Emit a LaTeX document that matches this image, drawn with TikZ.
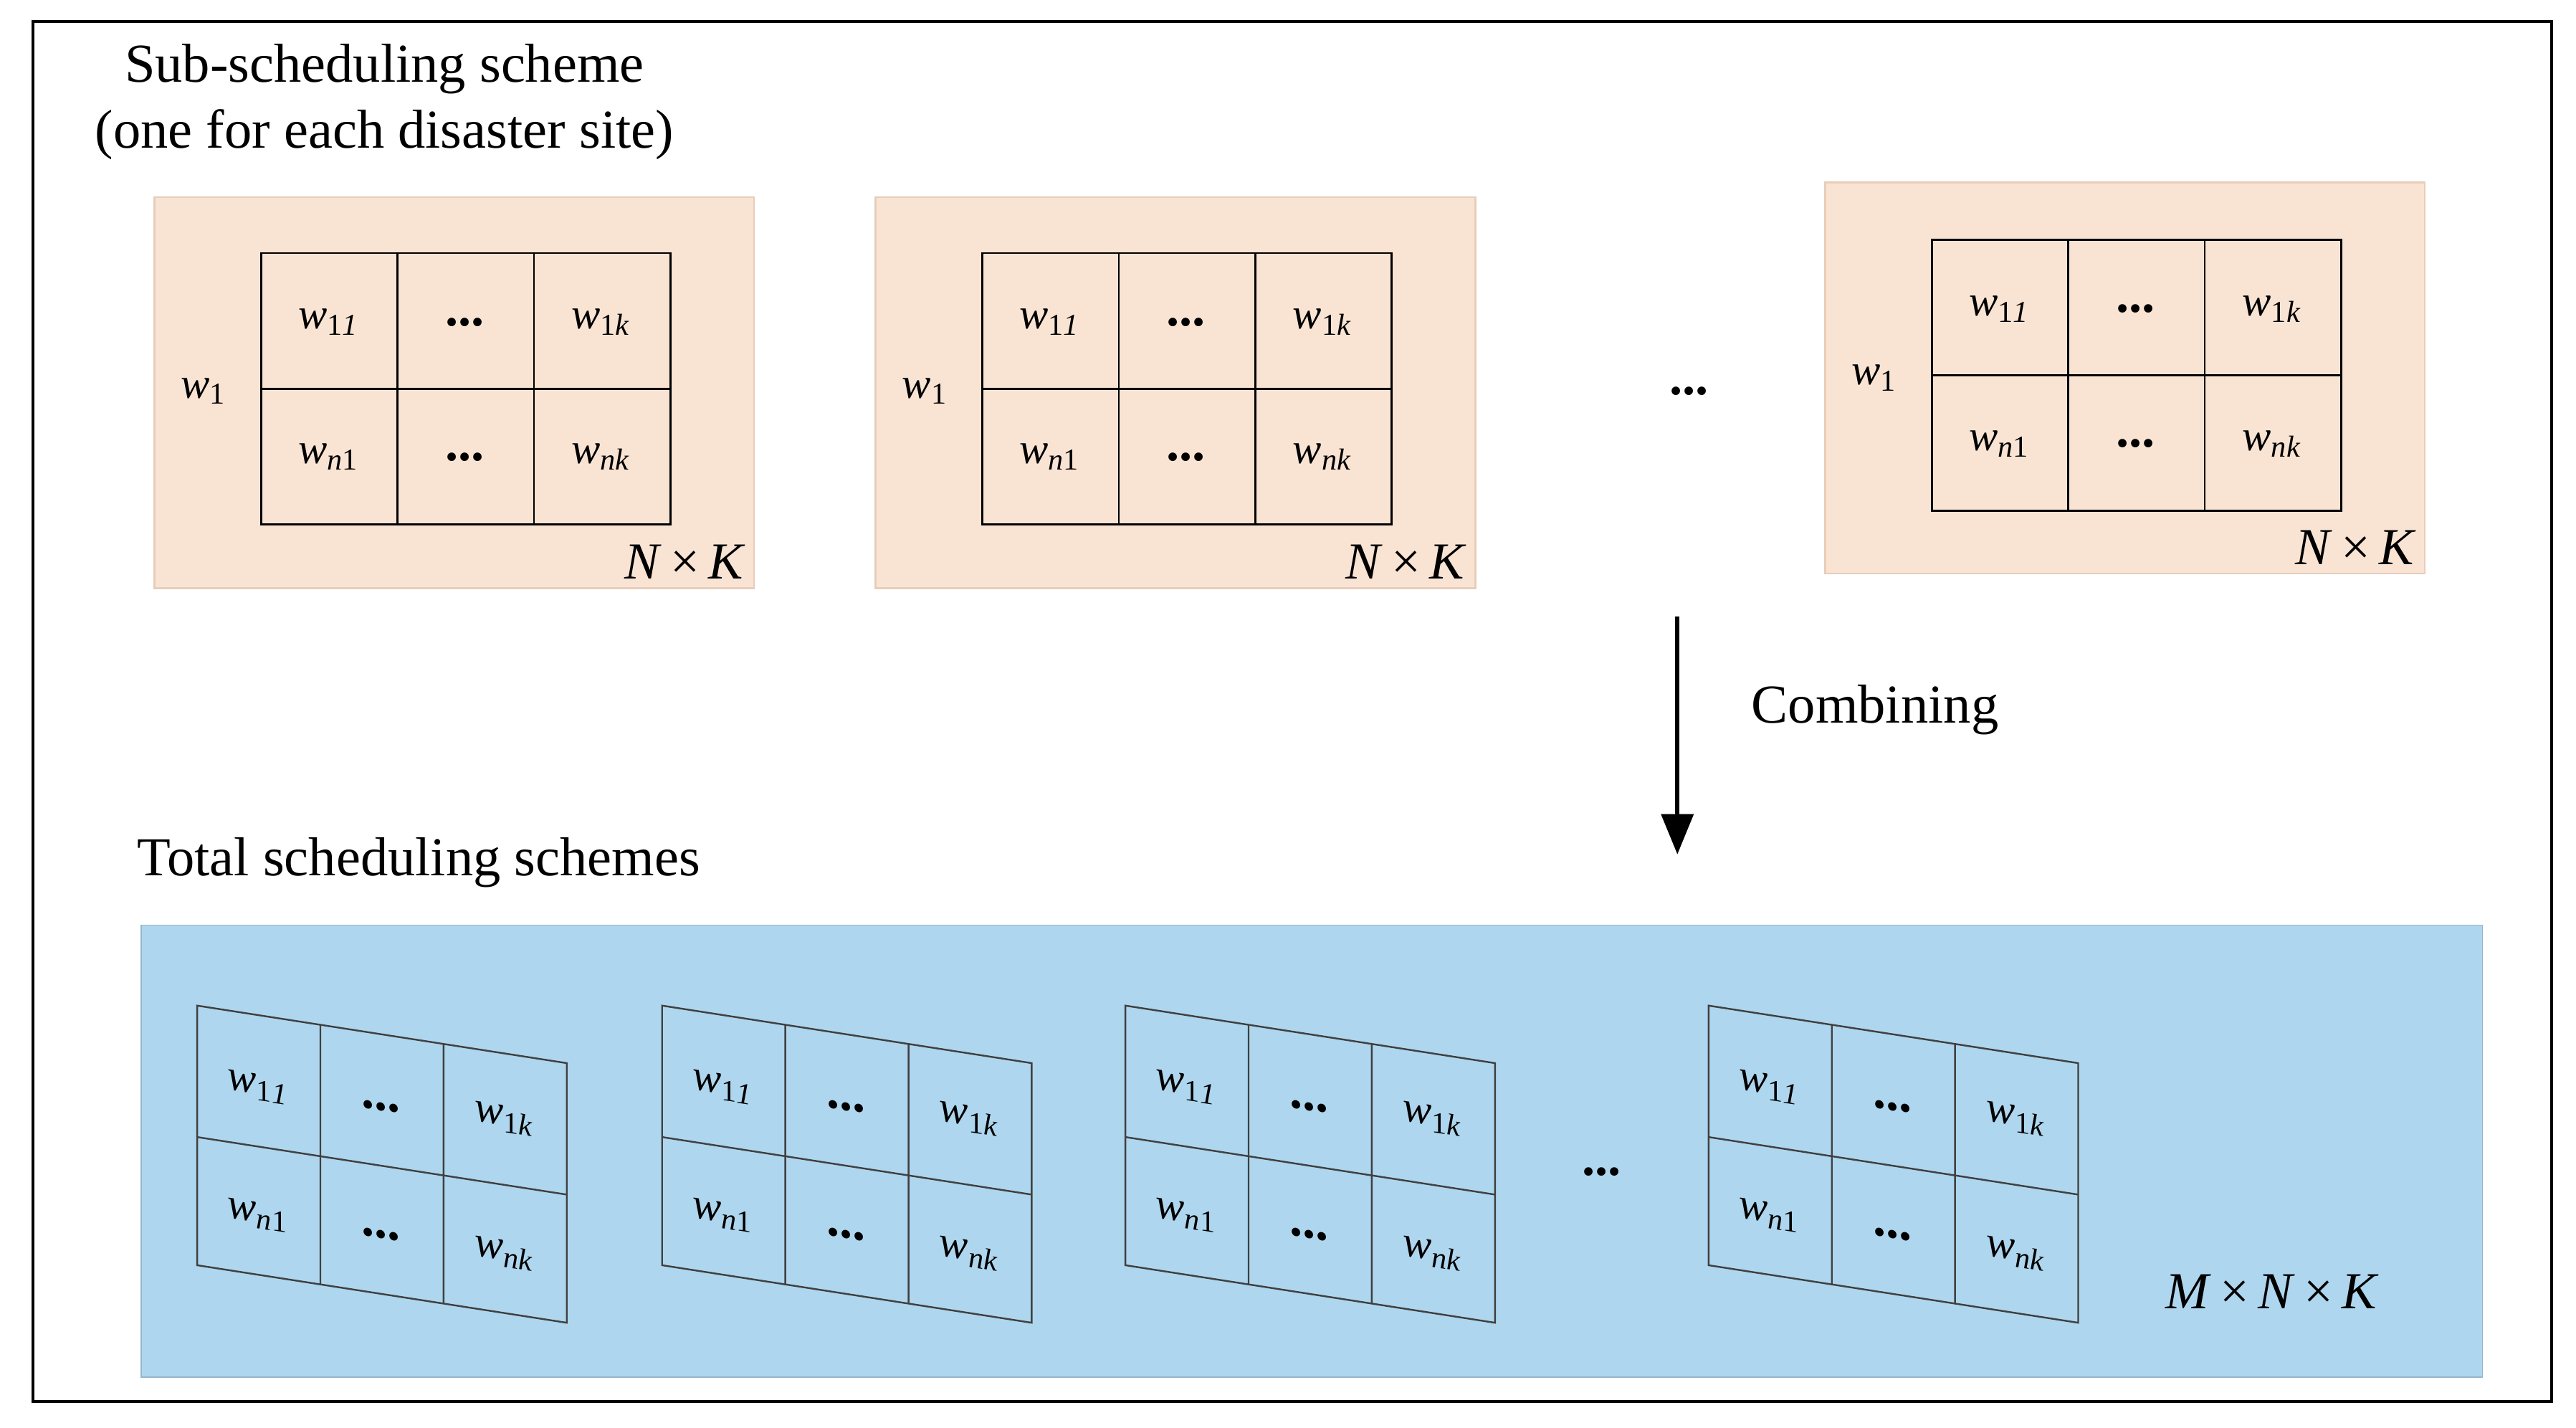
\documentclass[tikz,border=0pt]{standalone}
\usepackage{fontspec}
\setmainfont{Liberation Serif}
\usetikzlibrary{arrows.meta}
\definecolor{peach}{HTML}{F9E4D4}
\definecolor{peachline}{HTML}{E8CDBA}
\definecolor{skyb}{HTML}{AED6EE}
\newcommand{\wl}[2]{\textit{w}\textsubscript{#1\textit{#2}}}
\begin{document}
\begin{tikzpicture}[x=0.02cm,y=-0.02cm,
  ttl/.style={font=\fontsize{19}{23}\selectfont,align=center},
  cell/.style={font=\fontsize{15}{18}\selectfont},
  dts/.style={font=\fontsize{18}{20}\selectfont\bfseries},
  sub/.style={fill=peach,draw=peachline,line width=0.6pt},
  grid/.style={draw=black,line width=0.7pt}]
\useasboundingbox (0,0) rectangle (1568,869);
\draw[line width=1pt] (20,13) rectangle (1553,853);
\node[ttl] (t1) at (234,62) {Sub-scheduling scheme\\(one for each disaster site)};
% top boxes
\foreach \bx/\by/\gx/\gy/\nm in {94/120/159/154/a,533/120/598/154/b,1111/111/1176/146/c}{
  \draw[sub] (\bx,\by) rectangle ++(365,238);
  \draw[grid] (\gx,\gy) rectangle ++(249,165);
  \draw[grid] (\gx+83,\gy) -- ++(0,165) (\gx+166,\gy) -- ++(0,165) (\gx,\gy+82.5) -- ++(249,0);
  \node[cell] (\nm11) at (\gx+41,\gy+42) {\wl{1}{1}};
  \node[dts] (\nm12) at (\gx+124,\gy+42) {...};
  \node[cell] (\nm13) at (\gx+207,\gy+42) {\wl{1}{k}};
  \node[cell] (\nm21) at (\gx+41,\gy+124) {\textit{w}\textsubscript{\textit{n}1}};
  \node[dts] (\nm22) at (\gx+124,\gy+124) {...};
  \node[cell] (\nm23) at (\gx+207,\gy+124) {\textit{w}\textsubscript{\textit{nk}}};
  \node[cell] (\nm w) at (\gx-35,\gy+84) {\textit{w}\textsubscript{1}};
  \node[ttl,font=\fontsize{18}{20}\selectfont] (\nm nk) at (\bx+323,\by+222) {\textit{N}\,×\,\textit{K}};
}
\node[dts] (d1) at (1028,238) {...};
\coordinate (as) at (1021,375);
\coordinate (ae) at (1021,520);
\draw[line width=1.6pt,-{Triangle[length=14pt,width=11pt]}] (as) -- (ae);
\node[ttl,anchor=west] (comb) at (1060,432) {Combining};
\node[ttl] (t2) at (255,525) {Total scheduling schemes};
\draw[fill=skyb,draw=skyb!85!black,line width=0.4pt] (86,563) rectangle (1511,838);
\foreach \x/\nm in {120/p,403/q,685/r,1040/s}{
 \begin{scope}[shift={(\x,612)},yslant=-0.1556,transform shape]
  \draw[draw=black!75,line width=0.6pt] (0,0) rectangle (225,158);
  \draw[draw=black!75,line width=0.6pt] (75,0) -- (75,158) (150,0) -- (150,158) (0,80) -- (225,80);
  \node[cell] (\nm11) at (37,44) {\wl{1}{1}};
  \node[dts] (\nm12) at (112,44) {...};
  \node[cell] (\nm13) at (187,40) {\wl{1}{k}};
  \node[cell] (\nm21) at (37,122) {\textit{w}\textsubscript{\textit{n}1}};
  \node[dts] (\nm22) at (112,122) {...};
  \node[cell] (\nm23) at (187,122) {\textit{w}\textsubscript{\textit{nk}}};
 \end{scope}
}
\node[dts] (d2) at (975,713) {...};
\node[font=\fontsize{18}{20}\selectfont] (mnk) at (1383,786) {\textit{M}\,×\,\textit{N}\,×\,\textit{K}};
\end{tikzpicture}
\end{document}
